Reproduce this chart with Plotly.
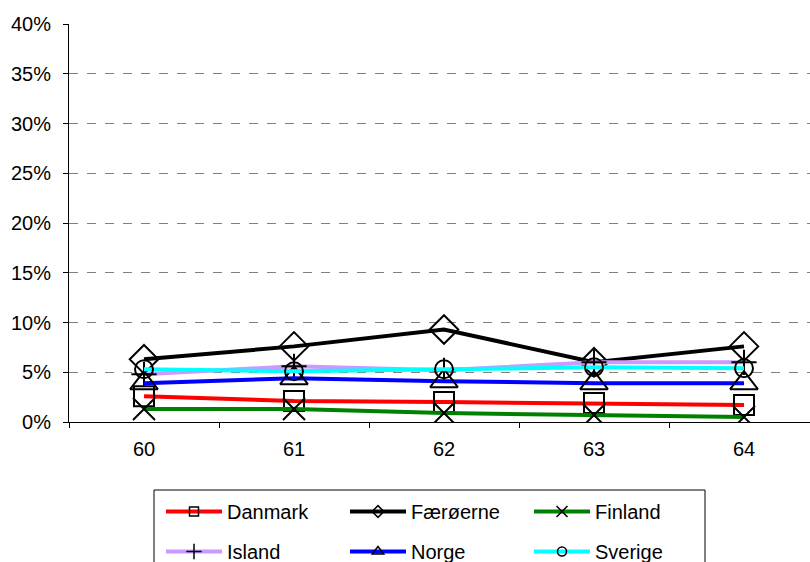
import plotly.graph_objects as go

ages = ["60", "61", "62", "63", "64"]
danmark = [0.026, 0.021, 0.020, 0.019, 0.017]
faeroerne = [0.063, 0.076, 0.093, 0.060, 0.076]
finland = [0.013, 0.013, 0.009, 0.007, 0.005]
island = [0.048, 0.056, 0.052, 0.060, 0.060]
norge = [0.039, 0.044, 0.041, 0.039, 0.039]
sverige = [0.053, 0.051, 0.053, 0.055, 0.054]
y_ticks = [0, 0.05, 0.10, 0.15, 0.20, 0.25, 0.30, 0.35, 0.40]

series = [
    ("Danmark", danmark, "#FF0000", "square-open", 20, 9, "legend"),
    ("Færøerne", faeroerne, "#000000", "diamond-open", 22, 9, "legend"),
    ("Finland", finland, "#008000", "x-thin-open", 22, 11, "legend"),
    ("Island", island, "#CC99FF", "cross-thin-open", 18, 11, "legend2"),
    ("Norge", norge, "#0000FF", "triangle-up-open", 24, 10, "legend2"),
    ("Sverige", sverige, "#00FFFF", "circle-open", 18, 9, "legend2"),
]

fig = go.Figure()
for name, vals, color, sym, size, lsize, lg in series:
    fig.add_trace(go.Scatter(
        x=ages, y=vals, name=name, mode="lines+markers", showlegend=False,
        line=dict(color=color, width=4),
        marker=dict(symbol=sym, size=size, color="black",
                    line=dict(color="black", width=2)),
    ))
for name, vals, color, sym, size, lsize, lg in series:
    fig.add_trace(go.Scatter(
        x=[None], y=[None], name=name, mode="lines+markers", showlegend=True,
        legend=lg,
        line=dict(color=color, width=4),
        marker=dict(symbol=sym, size=lsize, color="black",
                    line=dict(color="black", width=1.5)),
    ))

PLOT_L, PLOT_W, PLOT_T, PLOT_H = 69, 741, 24, 398


def px_x(px):
    return (px - PLOT_L) / PLOT_W


def px_y(py):
    return (PLOT_T + PLOT_H - py) / PLOT_H


leg_common = dict(
    orientation="h", xanchor="left", yanchor="top",
    entrywidth=113, entrywidthmode="pixels", itemwidth=56,
    borderwidth=0, bgcolor="rgba(0,0,0,0)",
    font=dict(size=20), traceorder="normal",
)

fig.update_layout(
    width=810, height=562,
    margin=dict(l=PLOT_L, r=0, t=PLOT_T, b=562 - PLOT_T - PLOT_H, autoexpand=False),
    paper_bgcolor="white", plot_bgcolor="white",
    font=dict(family="Liberation Sans, Arial, sans-serif", size=20, color="black"),
    xaxis=dict(
        type="category", categoryorder="array", categoryarray=ages,
        range=[-0.5, 4.44], tickson="boundaries", ticks="outside", ticklen=5,
        tickcolor="black", showline=True, linecolor="black", linewidth=1,
        showgrid=False, zeroline=False, ticklabelstandoff=9, automargin=False,
    ),
    yaxis=dict(
        range=[0, 0.4], tickvals=y_ticks, tickformat=".0%",
        ticks="outside", ticklen=5, tickcolor="black",
        showline=True, linecolor="black", linewidth=1,
        showgrid=True, gridcolor="#808080", griddash="dash", gridwidth=1,
        zeroline=False, ticklabelstandoff=8, automargin=False,
    ),
    legend=dict(x=px_x(161), y=px_y(492), **leg_common),
    legend2=dict(x=px_x(161), y=px_y(532), **leg_common),
    shapes=[dict(
        type="rect", xref="paper", yref="paper",
        x0=px_x(154), x1=px_x(705), y0=px_y(490), y1=px_y(600),
        line=dict(color="black", width=1), fillcolor="rgba(0,0,0,0)",
        layer="below",
    )],
)

post = (
    "var d=document.getElementById('{plot_id}');"
    "d.style.display='block';"
    "if(d.parentElement){d.parentElement.style.lineHeight='0';"
    "d.parentElement.style.height='562px';d.parentElement.style.overflow='hidden';}"
    "document.documentElement.style.overflow='hidden';"
    "document.documentElement.style.height='562px';"
    "document.body.style.margin='0';"
    "document.body.style.overflow='hidden';"
    "document.body.style.height='562px';"
)
fig.write_html("out.html", config={"displayModeBar": False}, post_script=post)
